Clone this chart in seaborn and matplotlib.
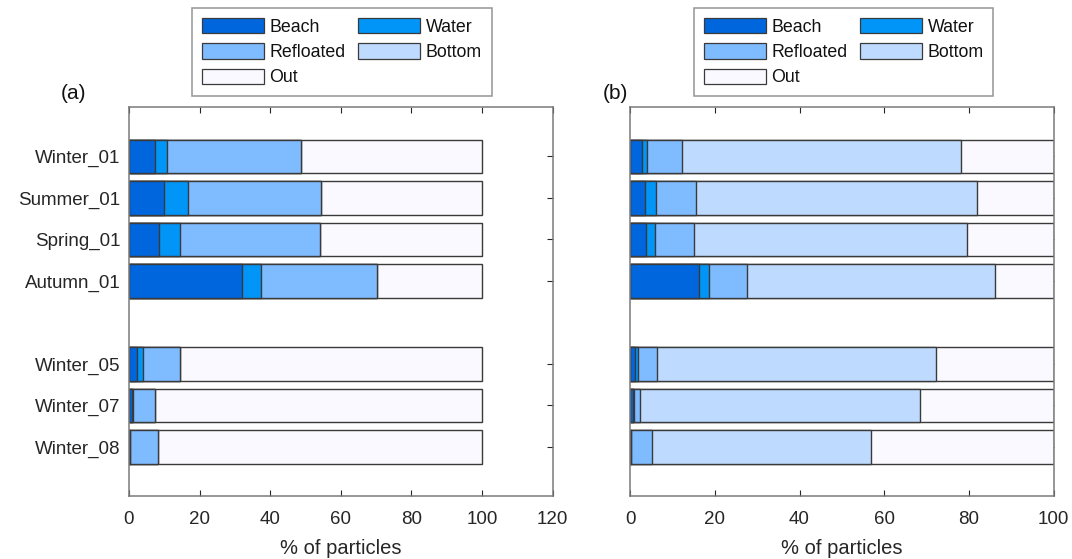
import matplotlib
matplotlib.use("Agg")
import matplotlib.pyplot as plt
import seaborn as sns
import pandas as pd
import numpy as np
from matplotlib.patches import Patch

sns.set_theme(style="white")
plt.rcParams['font.family'] = ['Liberation Sans', 'DejaVu Sans']

# ---- data ----
scenarios = ["Winter_01", "Summer_01", "Spring_01", "Autumn_01",
             "Winter_05", "Winter_07", "Winter_08"]
row_pos = [1, 2, 3, 4, 6, 7, 8]
components = ["Beach", "Water", "Refloated", "Bottom", "Out"]

# panel (a) percentages
a_beach = [7.3, 9.8, 8.6, 32.0, 2.4, 1.0, 0.4]
a_water = [3.4, 6.8, 5.8, 5.3, 1.5, 0.2, 0.0]
a_refloated = [37.9, 37.9, 39.7, 32.9, 10.5, 6.1, 7.7]
a_bottom = [0.0, 0.0, 0.0, 0.0, 0.0, 0.0, 0.0]
a_out = [51.4, 45.5, 45.9, 29.8, 85.6, 92.7, 91.9]

# panel (b) percentages
b_beach = [2.8, 3.5, 3.8, 16.3, 1.1, 0.8, 0.2]
b_water = [1.2, 2.7, 2.2, 2.4, 0.9, 0.2, 0.0]
b_refloated = [8.3, 9.3, 9.1, 8.9, 4.3, 1.4, 5.0]
b_bottom = [65.9, 66.4, 64.4, 58.5, 65.9, 66.1, 51.6]
b_out = [21.8, 18.1, 20.5, 13.9, 27.8, 31.5, 43.2]

colors = {"Beach": "#0066DD", "Water": "#0095F7", "Refloated": "#7FBBFF",
          "Bottom": "#BEDBFF", "Out": "#F9F9FF"}
edge = "#3a3a3a"


def make_df(series):
    df = pd.DataFrame(dict(zip(components, series)))
    df["scenario"] = scenarios
    df["pos"] = row_pos
    return df


fig = plt.figure(figsize=(10.72, 5.59), dpi=100)
ax_a = fig.add_axes([0.1203, 0.1127, 0.3953, 0.6959])
ax_b = fig.add_axes([0.5877, 0.1127, 0.3953, 0.6959])

panels = [
    (ax_a, make_df([a_beach, a_water, a_refloated, a_bottom, a_out]), 120,
     [0, 20, 40, 60, 80, 100, 120], "(a)", 0.319),
    (ax_b, make_df([b_beach, b_water, b_refloated, b_bottom, b_out]), 100,
     [0, 20, 40, 60, 80, 100], "(b)", 0.787),
]

for ax, df, xmax, xt, lab, legx in panels:
    cum = df[components].cumsum(axis=1)
    # draw from the outermost segment inwards so each boundary shows
    for comp in reversed(components):
        d = pd.DataFrame({"val": cum[comp], "pos": df["pos"]})
        sns.barplot(data=d, x="val", y="pos", orient="h", native_scale=True,
                    color=colors[comp], edgecolor=edge, linewidth=1.0,
                    saturation=1, width=0.8, ax=ax, errorbar=None)
    ax.set_xlim(0, xmax)
    ax.set_ylim(9.18, -0.19)
    ax.set_xticks(xt)
    ax.set_xticklabels([str(v) for v in xt], fontsize=13.5, color="#262626")
    ax.set_yticks(row_pos)
    if ax is ax_a:
        ax.set_yticklabels(scenarios, fontsize=13.5, color="#262626")
    else:
        ax.set_yticklabels([])
    ax.set_xlabel("% of particles", fontsize=14.5, color="#262626",
                  labelpad=8)
    ax.set_ylabel("")
    ax.tick_params(direction="in", length=4, width=0.8, color="#262626",
                   top=True, right=True, bottom=True, left=True)
    ax.tick_params(axis="x", pad=11)
    ax.tick_params(axis="y", pad=6)
    for s in ax.spines.values():
        s.set_visible(True)
        s.set_color("#7a7a7a")
        s.set_linewidth(1.1)
    ax.text(-0.16 if ax is ax_a else -0.065, 1.01, lab, transform=ax.transAxes,
            fontsize=15, ha="left", va="bottom", color="#111111")

    order = ["Beach", "Refloated", "Out", "Water", "Bottom"]
    handles = [Patch(facecolor=colors[c], edgecolor=edge, linewidth=0.9,
                     label=c) for c in order]
    leg = fig.legend(handles=handles, loc="upper center", ncol=2,
                     bbox_to_anchor=(legx, 0.985), fontsize=12.8,
                     handlelength=3.5, handleheight=0.95, handletextpad=0.3,
                     labelspacing=0.42, columnspacing=0.7, borderpad=0.55,
                     fancybox=False, frameon=True, borderaxespad=0)
    leg.get_frame().set_edgecolor("#7a7a7a")
    leg.get_frame().set_linewidth(1.1)
    for t in leg.get_texts():
        t.set_color("#111111")

fig.savefig("out.png", dpi=100, facecolor="white")
